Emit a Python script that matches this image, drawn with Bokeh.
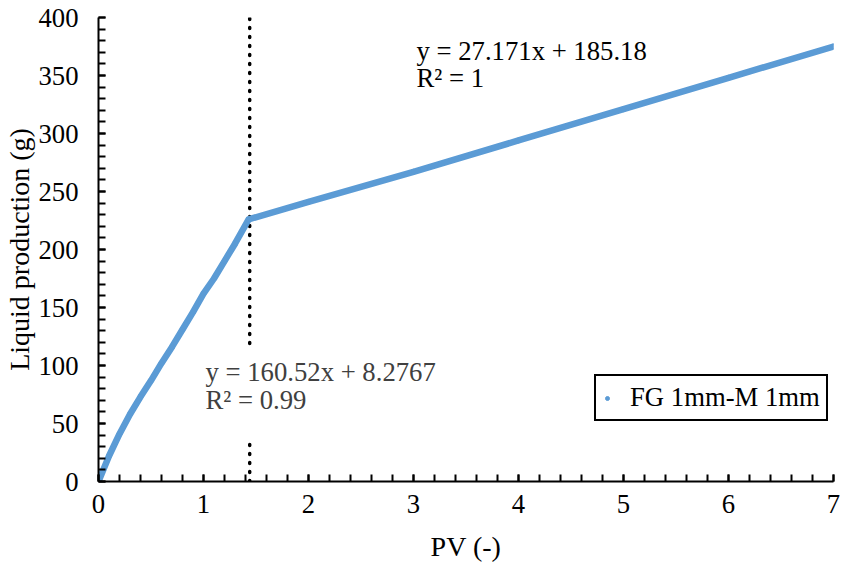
from bokeh.plotting import figure
from bokeh.models import Range1d, Legend, LegendItem, Label
from bokeh.embed import file_html
from bokeh.resources import INLINE

# Data
pv = [0, 0.1, 0.2, 0.3, 0.4, 0.5, 0.6, 0.7, 0.8, 0.9, 1.0, 1.1, 1.2, 1.3, 1.43,
      2, 3, 4, 5, 6, 7]
liquid = [0, 22, 41, 58, 73, 87, 102, 116, 131, 146, 162, 175, 190, 205, 226,
          241, 267, 294, 321, 348, 375]
series_name = "FG 1mm-M 1mm"
fit_upper = ["y = 27.171x + 185.18", "R\u00b2 = 1"]
fit_lower = ["y = 160.52x + 8.2767", "R\u00b2 = 0.99"]
break_pv = 1.44
dotted_upper = [119, 400]
dotted_lower = [0, 36]

FONT = "Liberation Serif"
TICK_FS = "26.7px"
TITLE_FS = "28px"
NOTE_FS = "26.7px"
BLUE = "#5B9BD5"

p = figure(frame_width=735, frame_height=464, output_backend="svg", toolbar_location=None,
           x_range=Range1d(0, 7), y_range=Range1d(0, 400),
           min_border_left=98, min_border_right=8, min_border_top=17,
           min_border_bottom=82)
p.grid.visible = False
p.outline_line_color = None

# dotted vertical line at the break
for seg in (dotted_upper, dotted_lower):
    p.line([break_pv, break_pv], seg, line_color="black", line_width=3.5,
           line_dash="1 8", line_cap="round")

p.line(pv, liquid, line_color=BLUE, line_width=6.5, line_cap="round", line_join="round")
pts = p.scatter(pv, liquid, size=5, color=BLUE)

for ax in (p.xaxis[0], p.yaxis[0]):
    ax.axis_line_color = "black"
    ax.axis_line_width = 2
    ax.major_tick_line_color = "black"
    ax.minor_tick_line_color = "black"
    ax.major_tick_line_width = 2
    ax.minor_tick_line_width = 2
    ax.major_tick_in = 7
    ax.major_tick_out = 0
    ax.minor_tick_in = 7
    ax.minor_tick_out = 0
    ax.major_label_text_font = FONT
    ax.major_label_text_font_size = TICK_FS
    ax.major_label_text_color = "black"
    ax.axis_label_text_font = FONT
    ax.axis_label_text_font_size = TITLE_FS
    ax.axis_label_text_font_style = "normal"
    ax.axis_label_text_color = "black"

p.xaxis.ticker.desired_num_ticks = 8
p.xaxis[0].ticker.num_minor_ticks = 5
p.yaxis[0].ticker.num_minor_ticks = 5
p.xaxis.axis_label = "PV (-)"
p.yaxis.axis_label = "Liquid production (g)"
p.xaxis.major_label_standoff = 13
p.yaxis.major_label_standoff = 20
p.xaxis.axis_label_standoff = 15
p.yaxis.axis_label_standoff = 0

for i, t in enumerate(fit_upper):
    p.add_layout(Label(x=318, y=431 - i * 27, x_units="screen", y_units="screen",
                       text=t, text_font=FONT, text_font_size=NOTE_FS,
                       text_color="black", text_baseline="middle"))
for i, t in enumerate(fit_lower):
    p.add_layout(Label(x=107, y=109.5 - i * 28, x_units="screen", y_units="screen",
                       text=t, text_font=FONT, text_font_size=NOTE_FS,
                       text_color="#404040", text_baseline="middle"))

legend = Legend(items=[LegendItem(label=series_name, renderers=[pts])],
                location=(496, 60), border_line_color="black", border_line_width=2,
                border_line_alpha=1,
                padding=6, spacing=0, margin=0, glyph_width=10, glyph_height=14,
                label_standoff=18, label_text_font=FONT, label_text_font_size=NOTE_FS,
                label_text_color="black", background_fill_alpha=1)
p.add_layout(legend)

open("out.html", "w").write(file_html(p, INLINE))
